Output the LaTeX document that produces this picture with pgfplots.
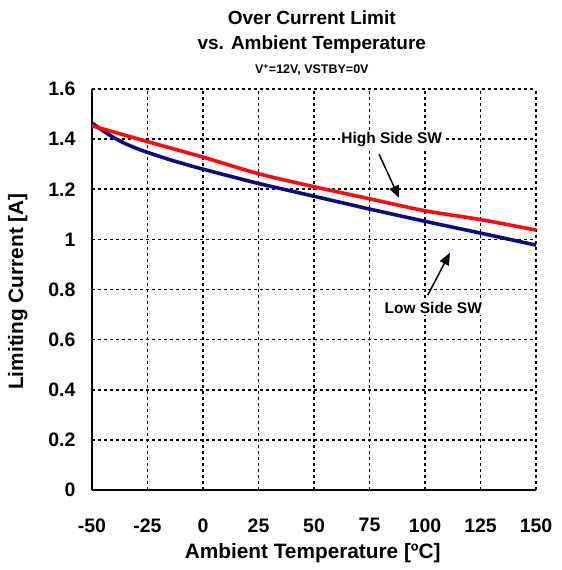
\documentclass[border=0pt]{standalone}
\usepackage{pgfplots}
\pgfplotsset{compat=1.18}
\usetikzlibrary{arrows.meta}
\usepackage{fontspec}
\setmainfont{Liberation Sans}
\definecolor{hsred}{RGB}{255,10,10}
\definecolor{lsblue}{RGB}{10,10,130}
\begin{document}
\begin{tikzpicture}
\begin{axis}[
  scale only axis,
  width=444pt, height=401pt,
  xmin=-50, xmax=150, ymin=0, ymax=1.6,
  xtick={-50,-25,0,25,50,75,100,125,150},
  ytick={0,0.2,0.4,0.6,0.8,1,1.2,1.4,1.6},
  axis x line*=bottom, axis y line*=left,
  axis line style={black, line width=1.5pt, -},
  major tick length=0pt,
  grid=major,
  major grid style={black, line width=1.7pt, dash pattern=on 3pt off 3pt},
  /pgf/number format/assume math mode=true,
  ticklabel style={font=\fontsize{19.5}{22}\selectfont\bfseries},
  xticklabel style={yshift=-25pt},
  yticklabel style={xshift=-13pt},
  xlabel={Ambient Temperature [ºC]},
  ylabel={Limiting Current [A]},
  label style={font=\fontsize{20.8}{24}\selectfont\bfseries},
  xlabel style={at={(axis description cs:0.497,-0.158)}, anchor=center},
  ylabel style={at={(axis description cs:-0.167,0.495)}, anchor=center},
  clip=false,
]
\addplot[lsblue, line width=3.6pt, smooth] coordinates {
(-50,1.464) (-45,1.433) (-40,1.405) (-35,1.382) (-30,1.363) (-25,1.347) (-15,1.318) (-5,1.292) (0,1.28) (10,1.257) (25,1.223) (50,1.172) (75,1.121) (100,1.072) (125,1.025) (150,0.977)};
\addplot[hsred, line width=3.6pt, smooth] coordinates {
(-50,1.453) (-25,1.39) (0,1.328) (25,1.262) (50,1.21) (75,1.162) (100,1.114) (125,1.079) (150,1.037)};
\draw[black, line width=1.5pt, -{Triangle[length=12pt,width=10pt]}] (axis cs:79.3,1.34) -- (axis cs:88.3,1.166);
\draw[black, line width=1.5pt, -{Triangle[length=12pt,width=10pt]}] (axis cs:101.2,0.777) -- (axis cs:111.2,0.946);
\node[fill=white, inner sep=1.5pt, font=\fontsize{15.5}{18}\selectfont\bfseries] at (axis cs:85,1.4) {High Side SW};
\node[fill=white, inner sep=1.5pt, font=\fontsize{15.5}{18}\selectfont\bfseries] at (axis cs:103.7,0.728) {Low Side SW};
\node[font=\fontsize{19}{22}\selectfont\bfseries] at (axis description cs:0.495,1.177) {Over Current Limit};
\node[font=\fontsize{19}{22}\selectfont\bfseries] at (axis description cs:0.495,1.11) {vs. Ambient Temperature};
\node[font=\fontsize{12.5}{15}\selectfont\bfseries] at (axis description cs:0.495,1.047) {V\textsuperscript{+}=12V, VSTBY=0V};
\path (axis description cs:-0.2072,-0.1995) rectangle (axis description cs:1.0563,1.2219);
\end{axis}
\end{tikzpicture}
\end{document}
